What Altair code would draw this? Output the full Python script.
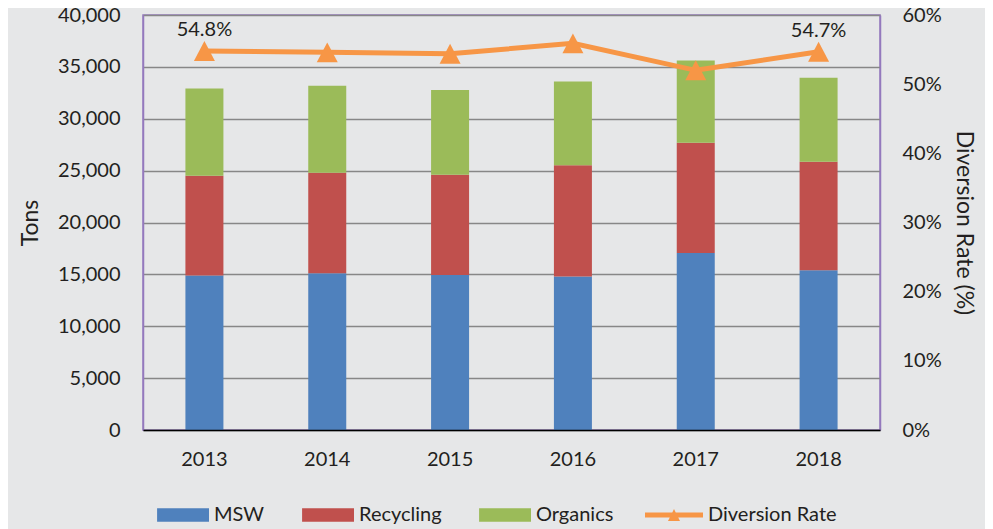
import altair as alt
import pandas as pd

# ---- data ----
years = ["2013", "2014", "2015", "2016", "2017", "2018"]
msw = [14900, 15100, 14950, 14800, 17050, 15400]
recycling = [9600, 9700, 9650, 10730, 10630, 10450]
organics = [8420, 8380, 8160, 8060, 7940, 8090]
diversion_rate = [0.548, 0.546, 0.544, 0.559, 0.520, 0.547]
labelled_years = ["2013", "2018"]

series_names = ["MSW", "Recycling", "Organics", "Diversion Rate"]
series_colors = ["#4F81BD", "#C0504D", "#9BBB59", "#F79646"]

tons_ticks = [0, 5000, 10000, 15000, 20000, 25000, 30000, 35000, 40000]
rate_ticks = [0.0, 0.1, 0.2, 0.3, 0.4, 0.5, 0.6]

# ---- styling ----
FONT = "Lato"
TEXT = "#231F20"
BG = "#E6E7E8"
PURPLE = "#9479BD"
GRID = "#878787"
ORANGE = "#F79646"

# ---- tables ----
rows = []
for i, yr in enumerate(years):
    for k, (name, vals) in enumerate(zip(series_names[:3], [msw, recycling, organics])):
        rows.append({"year": yr, "series": name, "tons": vals[i], "order": k})
bar_df = pd.DataFrame(rows)
rate_df = pd.DataFrame({"year": years, "rate": diversion_rate})
label_df = rate_df[rate_df["year"].isin(labelled_years)]
legend_df = pd.DataFrame({"series": series_names, "year": [years[0]] * len(series_names)})

# legend symbol paths (unit box [-1, 1])
rect_path = "M-0.79,-0.23H1V0.23H-0.79Z"
line_path = ("M-1,-0.086H-0.06L0,-0.207L0.06,-0.086H1V0.086H0.146L0.207,0.207"
             "H-0.207L-0.146,0.086H-1Z")
tri_path = "M-1,0.95L0,-0.95L1,0.95Z"

color_scale = alt.Scale(domain=series_names, range=series_colors)
shape_scale = alt.Scale(domain=series_names, range=[rect_path] * 3 + [line_path])

x_enc = alt.X(
    "year:N",
    scale=alt.Scale(paddingInner=0, paddingOuter=0),
    axis=alt.Axis(title=None, labelAngle=0, ticks=False, grid=False,
                  domainColor="#000000", domainWidth=1.5, labelPadding=19,
                  labelFontSize=20, zindex=1),
)

bars = alt.Chart(bar_df).mark_bar(width=38).encode(
    x=x_enc,
    y=alt.Y("tons:Q", stack="zero",
            scale=alt.Scale(domain=[0, 40000], nice=False),
            axis=alt.Axis(title="Tons", values=tons_ticks, format=",d",
                          grid=True, gridColor=GRID, gridWidth=1.5,
                          ticks=False, labelPadding=23, domainColor=PURPLE,
                          domainWidth=1.5, titlePadding=15)),
    color=alt.Color("series:N", scale=color_scale, title=None),
    order=alt.Order("order:Q", sort="ascending"),
)

rate_y = alt.Y("rate:Q", scale=alt.Scale(domain=[0, 0.6], nice=False),
               axis=alt.Axis(title="Diversion Rate (%)", orient="right",
                             values=rate_ticks, format=".0%", grid=False,
                             ticks=False, labelPadding=22, domainColor=PURPLE,
                             domainWidth=1.5, titlePadding=10))

line = alt.Chart(rate_df).mark_line(color=ORANGE, strokeWidth=5).encode(
    x=x_enc, y=rate_y)
points = alt.Chart(rate_df).mark_point(
    shape=tri_path, size=441, filled=True, color=ORANGE, opacity=1
).encode(x=x_enc, y=rate_y)
labels = alt.Chart(label_df).mark_text(
    dy=-21, fontSize=20, font=FONT, color=TEXT
).encode(x=x_enc, y=rate_y, text=alt.Text("rate:Q", format=".1%"))

right = alt.layer(line, points, labels)

legend_pts = alt.Chart(legend_df).mark_point(filled=True, clip=True, opacity=1).encode(
    x=x_enc,
    y=alt.value(-500),
    color=alt.Color("series:N", scale=color_scale, title=None),
    shape=alt.Shape("series:N", scale=shape_scale, title=None),
)

chart = (
    alt.layer(bars, right, legend_pts)
    .resolve_scale(y="independent")
    .properties(
        width=737, height=415,
        autosize=alt.AutoSizeParams(type="none"),
        padding={"left": 135, "top": 7, "right": 105, "bottom": 99},
        background=BG,
    )
    .configure_view(stroke=PURPLE, strokeWidth=1.5)
    .configure_axis(labelFont=FONT, titleFont=FONT, labelColor=TEXT,
                    titleColor=TEXT, labelFontSize=20, titleFontSize=23,
                    titleFontWeight="normal")
    .configure_legend(orient="none", legendX=8, legendY=471,
                      direction="horizontal", columns=4, labelFont=FONT,
                      labelFontSize=20, labelColor=TEXT, symbolSize=3364,
                      symbolStrokeWidth=0, columnPadding=31, labelOffset=5,
                      symbolOpacity=1, labelLimit=300)
)

chart.save("out.html", embed_options={"renderer": "svg", "actions": False})
